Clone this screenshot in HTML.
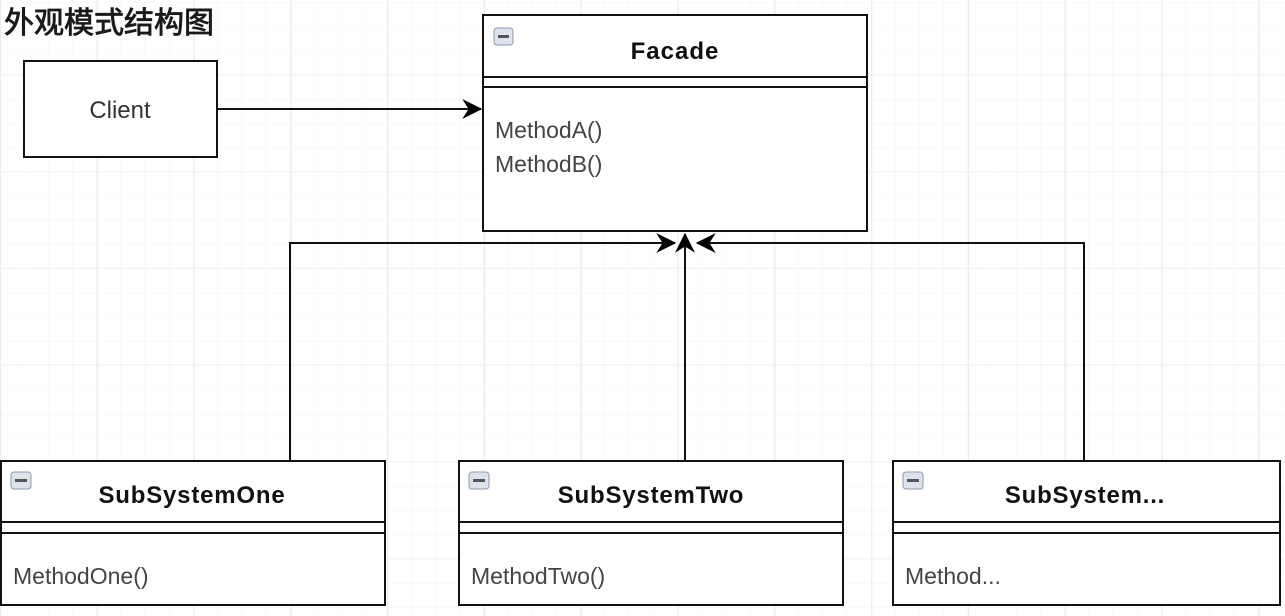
<!DOCTYPE html>
<html><head><meta charset="utf-8"><style>
html,body{margin:0;padding:0;background:#fff;}
svg{display:block;}
text{font-family:"Liberation Sans","Noto Sans CJK SC",sans-serif;}
</style></head><body>
<svg width="1285" height="616" viewBox="0 0 1285 616" xmlns="http://www.w3.org/2000/svg">
<defs>
<pattern id="minor" x="0" y="3" width="24.2" height="24.2" patternUnits="userSpaceOnUse">
<path d="M24.2 0V24.2M0 24.2H24.2" fill="none" stroke="#f3f3f3" stroke-width="1"/>
</pattern>
<pattern id="major" x="0" y="-22" width="96.8" height="96.8" patternUnits="userSpaceOnUse">
<path d="M0.5 0V96.8M0 96.8H96.8" fill="none" stroke="#ebebeb" stroke-width="1.2"/>
</pattern>
<marker id="ar2" viewBox="0 0 16 16" refX="15" refY="8" markerWidth="20" markerHeight="20" markerUnits="userSpaceOnUse" orient="auto">
<path d="M0 0L16 8L0 16L5 8Z" fill="#000"/>
</marker>
</defs>
<rect width="1285" height="616" fill="#fff"/>
<rect width="1285" height="616" fill="url(#minor)"/>
<rect width="1285" height="616" fill="url(#major)"/>

<text x="4" y="33" font-size="30" fill="#1a1a1a" stroke="#1a1a1a" stroke-width="0.8" font-family="'Noto Sans CJK SC',sans-serif">外观模式结构图</text>

<!-- Client -->
<rect x="24" y="61" width="193" height="96" fill="#fff" stroke="#111" stroke-width="2"/>
<text x="120" y="118" font-size="24" fill="#333" text-anchor="middle">Client</text>
<line x1="217" y1="109" x2="481" y2="109" stroke="#111" stroke-width="2" marker-end="url(#ar2)"/>

<!-- Facade -->
<rect x="483" y="15" width="384" height="216" fill="#fff" stroke="#111" stroke-width="2"/>
<line x1="483" y1="77" x2="867" y2="77" stroke="#111" stroke-width="2"/>
<line x1="483" y1="87" x2="867" y2="87" stroke="#111" stroke-width="2"/>
<rect x="494" y="28" width="19" height="17" rx="3" fill="#dde3ea" stroke="#8a9bb0" stroke-width="1"/>
<rect x="498" y="35" width="11" height="3" fill="#555"/>
<text x="675" y="59" font-size="24" font-weight="bold" fill="#111" text-anchor="middle" letter-spacing="1">Facade</text>
<text x="495" y="138" font-size="23" fill="#444">MethodA()</text>
<text x="495" y="172" font-size="23" fill="#444">MethodB()</text>

<!-- connectors -->
<polyline points="290,461 290,243 675,243" fill="none" stroke="#111" stroke-width="2" marker-end="url(#ar2)"/>
<polyline points="1084,461 1084,243 697,243" fill="none" stroke="#111" stroke-width="2" marker-end="url(#ar2)"/>
<line x1="685" y1="461" x2="685" y2="234" stroke="#111" stroke-width="2" marker-end="url(#ar2)"/>

<!-- SubSystemOne -->
<g>
<rect x="1" y="461" width="384" height="144" fill="#fff" stroke="#111" stroke-width="2"/>
<line x1="1" y1="522" x2="385" y2="522" stroke="#111" stroke-width="2"/>
<line x1="1" y1="533" x2="385" y2="533" stroke="#111" stroke-width="2"/>
<rect x="11" y="472" width="20" height="17" rx="3" fill="#dde3ea" stroke="#8a9bb0" stroke-width="1"/>
<rect x="15" y="479" width="12" height="3" fill="#555"/>
<text x="192" y="503" font-size="24" font-weight="bold" fill="#111" text-anchor="middle" letter-spacing="0.8">SubSystemOne</text>
<text x="13" y="584" font-size="23" fill="#444">MethodOne()</text>
</g>
<!-- SubSystemTwo -->
<g>
<rect x="459" y="461" width="384" height="144" fill="#fff" stroke="#111" stroke-width="2"/>
<line x1="459" y1="522" x2="843" y2="522" stroke="#111" stroke-width="2"/>
<line x1="459" y1="533" x2="843" y2="533" stroke="#111" stroke-width="2"/>
<rect x="469" y="472" width="20" height="17" rx="3" fill="#dde3ea" stroke="#8a9bb0" stroke-width="1"/>
<rect x="473" y="479" width="12" height="3" fill="#555"/>
<text x="651" y="503" font-size="24" font-weight="bold" fill="#111" text-anchor="middle" letter-spacing="0.8">SubSystemTwo</text>
<text x="471" y="584" font-size="23" fill="#444">MethodTwo()</text>
</g>
<!-- SubSystem... -->
<g>
<rect x="893" y="461" width="387" height="144" fill="#fff" stroke="#111" stroke-width="2"/>
<line x1="893" y1="522" x2="1280" y2="522" stroke="#111" stroke-width="2"/>
<line x1="893" y1="533" x2="1280" y2="533" stroke="#111" stroke-width="2"/>
<rect x="903" y="472" width="20" height="17" rx="3" fill="#dde3ea" stroke="#8a9bb0" stroke-width="1"/>
<rect x="907" y="479" width="12" height="3" fill="#555"/>
<text x="1085" y="503" font-size="24" font-weight="bold" fill="#111" text-anchor="middle" letter-spacing="0.8">SubSystem...</text>
<text x="905" y="584" font-size="23" fill="#444">Method...</text>
</g>
</svg>
</body></html>
